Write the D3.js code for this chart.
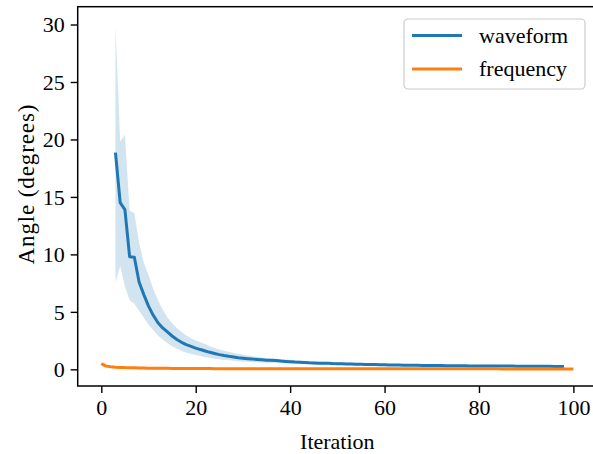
<!DOCTYPE html>
<html>
<head>
<meta charset="utf-8">
<script src="https://cdn.jsdelivr.net/npm/d3@7.9.0/dist/d3.min.js"></script>
<style>
  html, body { margin: 0; padding: 0; background: #fff; }
  svg { display: block; }
  text { font-family: "Liberation Serif", "Times New Roman", serif; fill: #000; }
</style>
</head>
<body>
<svg id="chart" width="593" height="454"></svg>
<script>
// ---------- Data ----------

// waveform: mean angle + spread band, iterations 3..98
const waveformStart = 3;
const waveformMean = [
  18.85, 14.5, 13.9, 9.8, 9.75, 7.6, 6.5, 5.5, 4.7, 4.05,
  3.6, 3.25, 2.9, 2.6, 2.35, 2.15, 2.0, 1.85, 1.72, 1.6,
  1.48, 1.38, 1.28, 1.2, 1.13, 1.07, 1.01, 0.97, 0.93, 0.89,
  0.86, 0.83, 0.8, 0.78, 0.76, 0.72, 0.69, 0.66, 0.63, 0.61,
  0.59, 0.57, 0.56, 0.54, 0.53, 0.52, 0.5, 0.49, 0.48, 0.47,
  0.46, 0.45, 0.44, 0.43, 0.42, 0.41, 0.4, 0.39, 0.38, 0.37,
  0.37, 0.36, 0.36, 0.35, 0.35, 0.34, 0.34, 0.33, 0.33, 0.33,
  0.32, 0.32, 0.31, 0.31, 0.31, 0.3, 0.3, 0.3, 0.29, 0.29,
  0.29, 0.28, 0.28, 0.28, 0.28, 0.27, 0.27, 0.27, 0.27, 0.26,
  0.26, 0.26, 0.26, 0.25, 0.25, 0.25
];
const waveformUpper = [
  29.9, 19.8, 20.4, 13.8, 13.6, 11.0, 9.3, 8.2, 7.0, 6.0,
  5.2, 4.5, 4.0, 3.6, 3.25, 2.95, 2.7, 2.5, 2.35, 2.2,
  2.0, 1.85, 1.72, 1.62, 1.52, 1.42, 1.34, 1.27, 1.2, 1.14,
  1.08, 1.03, 0.99, 0.95, 0.92, 0.89, 0.86, 0.83, 0.79, 0.76,
  0.73, 0.71, 0.69, 0.67, 0.65, 0.63, 0.61, 0.6, 0.58, 0.57,
  0.56, 0.55, 0.53, 0.52, 0.51, 0.5, 0.49, 0.48, 0.47, 0.46,
  0.45, 0.44, 0.44, 0.43, 0.42, 0.41, 0.41, 0.4, 0.4, 0.39,
  0.39, 0.38, 0.37, 0.37, 0.37, 0.36, 0.36, 0.35, 0.35, 0.35,
  0.34, 0.34, 0.33, 0.33, 0.33, 0.32, 0.32, 0.32, 0.32, 0.31,
  0.31, 0.31, 0.3, 0.3, 0.3, 0.3
];
const waveformLower = [
  7.6, 9.0, 7.2, 6.0, 5.7, 5.1, 4.5, 3.9, 3.4, 2.95,
  2.6, 2.3, 2.0, 1.8, 1.6, 1.45, 1.35, 1.25, 1.15, 1.05,
  1.0, 0.93, 0.87, 0.82, 0.78, 0.74, 0.7, 0.67, 0.65, 0.63,
  0.61, 0.59, 0.57, 0.56, 0.55, 0.54, 0.53, 0.52, 0.5, 0.49,
  0.48, 0.46, 0.45, 0.44, 0.43, 0.42, 0.4, 0.39, 0.38, 0.37,
  0.37, 0.36, 0.35, 0.34, 0.34, 0.33, 0.32, 0.31, 0.31, 0.3,
  0.3, 0.29, 0.29, 0.28, 0.28, 0.27, 0.27, 0.27, 0.26, 0.26,
  0.26, 0.25, 0.25, 0.25, 0.25, 0.24, 0.24, 0.24, 0.23, 0.23,
  0.23, 0.23, 0.22, 0.22, 0.22, 0.22, 0.22, 0.21, 0.21, 0.21,
  0.21, 0.21, 0.21, 0.2, 0.2, 0.2
];

// frequency: iterations 0..100
const frequencyStart = 0;
const frequencyMean = [
  0.5, 0.28, 0.22, 0.19, 0.17, 0.15, 0.14, 0.13, 0.12, 0.11,
  0.1, 0.1, 0.09, 0.09, 0.09, 0.08, 0.08, 0.08, 0.08, 0.07,
  0.07, 0.07, 0.07, 0.07, 0.06, 0.06, 0.06, 0.06, 0.06, 0.06,
  0.06, 0.05, 0.05, 0.05, 0.05, 0.05, 0.05, 0.05, 0.05, 0.05,
  0.05, 0.05, 0.05, 0.05, 0.05, 0.05, 0.05, 0.05, 0.05, 0.05,
  0.05, 0.05, 0.05, 0.05, 0.04, 0.04, 0.04, 0.04, 0.04, 0.04,
  0.04, 0.04, 0.04, 0.04, 0.04, 0.04, 0.04, 0.04, 0.04, 0.04,
  0.04, 0.04, 0.04, 0.04, 0.04, 0.04, 0.04, 0.04, 0.04, 0.04,
  0.04, 0.04, 0.04, 0.04, 0.04, 0.03, 0.03, 0.03, 0.03, 0.03,
  0.03, 0.03, 0.03, 0.03, 0.03, 0.03, 0.03, 0.03, 0.03, 0.03,
  0.03
];

const xTicks = [0, 20, 40, 60, 80, 100];
const yTicks = [0, 5, 10, 15, 20, 25, 30];
const seriesNames = ["waveform", "frequency"];
const seriesColors = ["#1f77b4", "#ff7f0e"];

// ---------- Helpers ----------

// turn start iteration + values into {it, v} points
function toPoints(start, values) {
  return values.map((v, i) => ({ it: start + i, v }));
}

const waveform = waveformMean.map((v, i) => ({
  it: waveformStart + i,
  v,
  lo: waveformLower[i],
  hi: waveformUpper[i],
}));
const frequency = toPoints(frequencyStart, frequencyMean);

// ---------- Layout ----------

const svg = d3.select("#chart");
const frame = { left: 77.7, right: 597, top: 6.7, bottom: 386 };

const x = d3.scaleLinear().domain([-5, 105]).range([frame.left, frame.right]);
const y = d3.scaleLinear().domain([-1.45, 31.55]).range([frame.bottom, frame.top]);

const clip = svg.append("defs").append("clipPath").attr("id", "plot-clip");
clip.append("rect")
  .attr("x", frame.left).attr("y", frame.top)
  .attr("width", frame.right - frame.left)
  .attr("height", frame.bottom - frame.top);

const plot = svg.append("g").attr("clip-path", "url(#plot-clip)");

// spread band
const band = d3.area()
  .x((d) => x(d.it))
  .y0((d) => y(d.lo))
  .y1((d) => y(d.hi));

plot.append("path")
  .datum(waveform)
  .attr("d", band)
  .attr("fill", seriesColors[0])
  .attr("fill-opacity", 0.2)
  .attr("stroke", "none");

const line = d3.line().x((d) => x(d.it)).y((d) => y(d.v));

plot.append("path")
  .datum(waveform)
  .attr("d", line)
  .attr("fill", "none")
  .attr("stroke", seriesColors[0])
  .attr("stroke-width", 3)
  .attr("stroke-linejoin", "round")
  .attr("stroke-linecap", "butt");

plot.append("path")
  .datum(frequency)
  .attr("d", line)
  .attr("fill", "none")
  .attr("stroke", seriesColors[1])
  .attr("stroke-width", 3)
  .attr("stroke-linejoin", "round")
  .attr("stroke-linecap", "butt");

// ---------- Axes ----------

const xAxis = d3.axisBottom(x)
  .tickValues(xTicks)
  .tickSize(7)
  .tickPadding(6)
  .tickFormat(d3.format("d"));

const yAxis = d3.axisLeft(y)
  .tickValues(yTicks)
  .tickSize(7)
  .tickPadding(6)
  .tickFormat(d3.format("d"));

const gx = svg.append("g")
  .attr("transform", `translate(0,${frame.bottom})`)
  .call(xAxis);

const gy = svg.append("g")
  .attr("transform", `translate(${frame.left},0)`)
  .call(yAxis);

[gx, gy].forEach((g) => {
  g.select(".domain").remove();
  g.selectAll(".tick line").attr("stroke", "#000").attr("stroke-width", 1.4);
  g.selectAll(".tick text")
    .attr("font-family", "Liberation Serif, serif")
    .attr("font-size", 22)
    .attr("fill", "#000");
});
gy.selectAll(".tick text").attr("dy", "0.34em");

// frame (right side falls outside the picture)
svg.append("rect")
  .attr("x", frame.left)
  .attr("y", frame.top)
  .attr("width", frame.right - frame.left)
  .attr("height", frame.bottom - frame.top)
  .attr("fill", "none")
  .attr("stroke", "#000")
  .attr("stroke-width", 1.5);

// axis labels
svg.append("text")
  .attr("x", (frame.left + frame.right) / 2)
  .attr("y", 449)
  .attr("text-anchor", "middle")
  .attr("font-size", 22)
  .text("Iteration");

svg.append("text")
  .attr("transform", "translate(33.5,184.5) rotate(-90)")
  .attr("text-anchor", "middle")
  .attr("font-size", 23)
  .attr("textLength", 160)
  .attr("lengthAdjust", "spacing")
  .text("Angle (degrees)");

// ---------- Legend ----------

const legend = svg.append("g").attr("transform", "translate(404,19)");

legend.append("rect")
  .attr("width", 181)
  .attr("height", 70)
  .attr("rx", 4)
  .attr("fill", "#fff")
  .attr("fill-opacity", 0.8)
  .attr("stroke", "#cccccc")
  .attr("stroke-width", 1.2);

seriesNames.forEach((name, i) => {
  const row = legend.append("g").attr("transform", `translate(0,${16.5 + i * 33.5})`);
  row.append("line")
    .attr("x1", 8).attr("x2", 58)
    .attr("stroke", seriesColors[i])
    .attr("stroke-width", 3);
  row.append("text")
    .attr("x", 75)
    .attr("dy", "0.32em")
    .attr("font-size", 22)
    .text(name);
});
</script>
</body>
</html>
